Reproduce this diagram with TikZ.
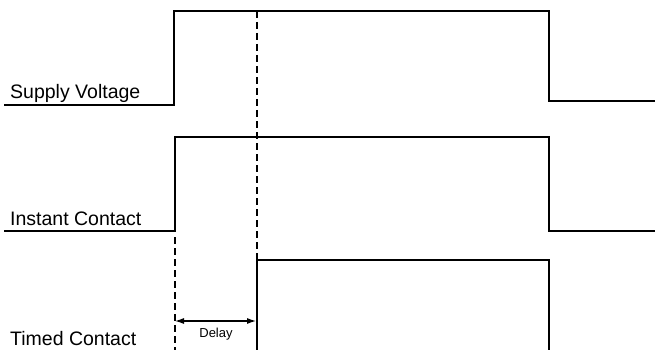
\documentclass[tikz,border=0pt]{standalone}
\usepackage{fontspec}
\setmainfont{Liberation Sans}
\usetikzlibrary{arrows.meta, positioning}

\tikzset{
    signal/.style={line width=1.8pt, line join=miter},
    marker/.style={line width=1.3pt, dash pattern=on 7pt off 4pt},
    lbl/.style={anchor=base west, inner sep=0pt, font=\fontsize{19.5}{22}\selectfont},
}

\begin{document}
\begin{tikzpicture}[x=1pt, y=-1pt]
            \useasboundingbox (0,0) rectangle (655,350);
            % supply voltage
            \draw[signal] (4,105) -- (174,105) -- (174,11) -- (549,11) -- (549,101) -- (655,101);
            \node[lbl] (supply) at (10,99) {Supply Voltage};
            % instant contact
            \draw[signal] (4,231) -- (175,231) -- (175,137) -- (549,137) -- (549,231) -- (655,231);
            \node[lbl] (instant) at (10,225) {Instant Contact};
            % timed contact
            \draw[signal] (257,350) -- (257,260) -- (549,260) -- (549,350);
            \node[lbl] (timed) at (10,345) {Timed Contact};
            % markers
            \draw[marker] (257,11) -- (257,260);
            \draw[marker] (175,237) -- (175,350);
            \coordinate (d1) at (175,321);
            \coordinate (d2) at (256,321);
            \draw[{Latex[length=9pt, width=6pt]}-{Latex[length=9pt, width=6pt]}, line width=1.1pt] (d1) -- (d2);
            \node[anchor=base, inner sep=0pt, font=\fontsize{13}{15}\selectfont] (delay) at (216,337) {Delay};
        \end{tikzpicture}
\end{document}
